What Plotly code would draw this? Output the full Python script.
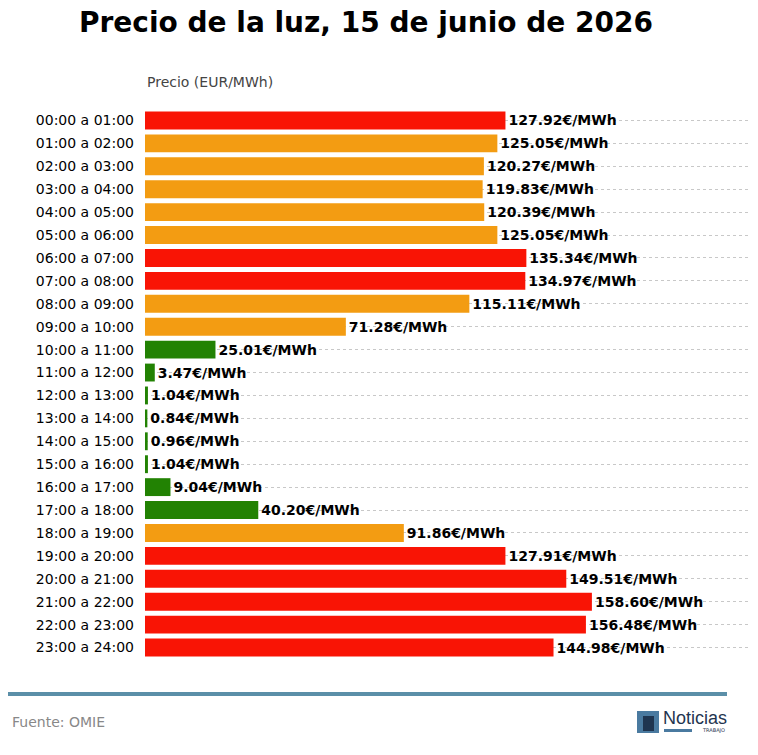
import plotly.graph_objects as go

hours = ["00:00 a 01:00","01:00 a 02:00","02:00 a 03:00","03:00 a 04:00","04:00 a 05:00","05:00 a 06:00",
         "06:00 a 07:00","07:00 a 08:00","08:00 a 09:00","09:00 a 10:00","10:00 a 11:00","11:00 a 12:00",
         "12:00 a 13:00","13:00 a 14:00","14:00 a 15:00","15:00 a 16:00","16:00 a 17:00","17:00 a 18:00",
         "18:00 a 19:00","19:00 a 20:00","20:00 a 21:00","21:00 a 22:00","22:00 a 23:00","23:00 a 24:00"]
prices = [127.92,125.05,120.27,119.83,120.39,125.05,135.34,134.97,115.11,71.28,25.01,3.47,
          1.04,0.84,0.96,1.04,9.04,40.20,91.86,127.91,149.51,158.60,156.48,144.98]

def col(v):
    if v >= 127: return "#f91405"
    if v < 50: return "#228203"
    return "#f39c12"

W, H = 758, 755
L, R, T, B = 145, 748, 109, 659

fig = go.Figure(go.Bar(
    y=hours, x=prices, orientation="h",
    marker=dict(color=[col(v) for v in prices], line=dict(width=0)),
    text=[f"<b>{v:.2f}€/MWh</b>" for v in prices], textposition="outside",
    textfont=dict(family="DejaVu Sans", size=14, color="black"),
    cliponaxis=False, width=0.78,
))
fig.update_layout(
    width=W, height=H, margin=dict(l=L, r=W-R, t=T, b=H-B),
    plot_bgcolor="white", paper_bgcolor="white", showlegend=False,
    font=dict(family="DejaVu Sans", size=14, color="black"),
    title=dict(text="<b>Precio de la luz, 15 de junio de 2026</b>", x=366/W, xanchor="center",
               y=1-22/H, yanchor="middle", font=dict(size=28, color="black")),
    xaxis=dict(range=[0, 214], visible=False),
    yaxis=dict(autorange="reversed", showgrid=True, gridcolor="#c8c8c8", griddash="dot",
               ticks="", ticklabelstandoff=10, range=[23.5, -0.5]),
    annotations=[
        dict(text="Precio (EUR/MWh)", xref="paper", yref="paper", x=0, y=1+(T-82)/(B-T),
             xanchor="left", yanchor="middle", showarrow=False, font=dict(size=14, color="#444")),
        dict(text="Fuente: OMIE", xref="paper", yref="paper", x=(10-L)/(R-L), y=-(722-B)/(B-T),
             xanchor="left", yanchor="middle", showarrow=False, font=dict(size=14, color="#888")),
        dict(text="Noticias", xref="paper", yref="paper", x=(661-L)/(R-L), y=-(718-B)/(B-T),
             xanchor="left", yanchor="middle", showarrow=False,
             font=dict(family="Liberation Sans Narrow, Liberation Sans", size=18, color="#1f3550")),
        dict(text="TRABAJO", xref="paper", yref="paper", x=(727-L)/(R-L), y=-(730-B)/(B-T),
             xanchor="right", yanchor="middle", showarrow=False, font=dict(size=5, color="#1f3550")),
    ],
    shapes=[
        dict(type="line", xref="paper", yref="paper", x0=(8-L)/(R-L), x1=(727-L)/(R-L),
             y0=-(694-B)/(B-T), y1=-(694-B)/(B-T), line=dict(color="#5b8fa8", width=4)),
        dict(type="rect", xref="paper", yref="paper", x0=(637-L)/(R-L), x1=(659-L)/(R-L),
             y0=-(711-B)/(B-T), y1=-(733-B)/(B-T), fillcolor="#4a7aa0", line=dict(width=0)),
        dict(type="rect", xref="paper", yref="paper", x0=(643-L)/(R-L), x1=(654-L)/(R-L),
             y0=-(716-B)/(B-T), y1=-(731-B)/(B-T), fillcolor="#1f3550", line=dict(width=0)),
        dict(type="rect", xref="paper", yref="paper", x0=(664-L)/(R-L), x1=(692-L)/(R-L),
             y0=-(729-B)/(B-T), y1=-(732-B)/(B-T), fillcolor="#4a7aa0", line=dict(width=0)),
    ],
)
fig.write_html("out.html", post_script="document.body.style.margin='0';",
               config={"displayModeBar": False})
